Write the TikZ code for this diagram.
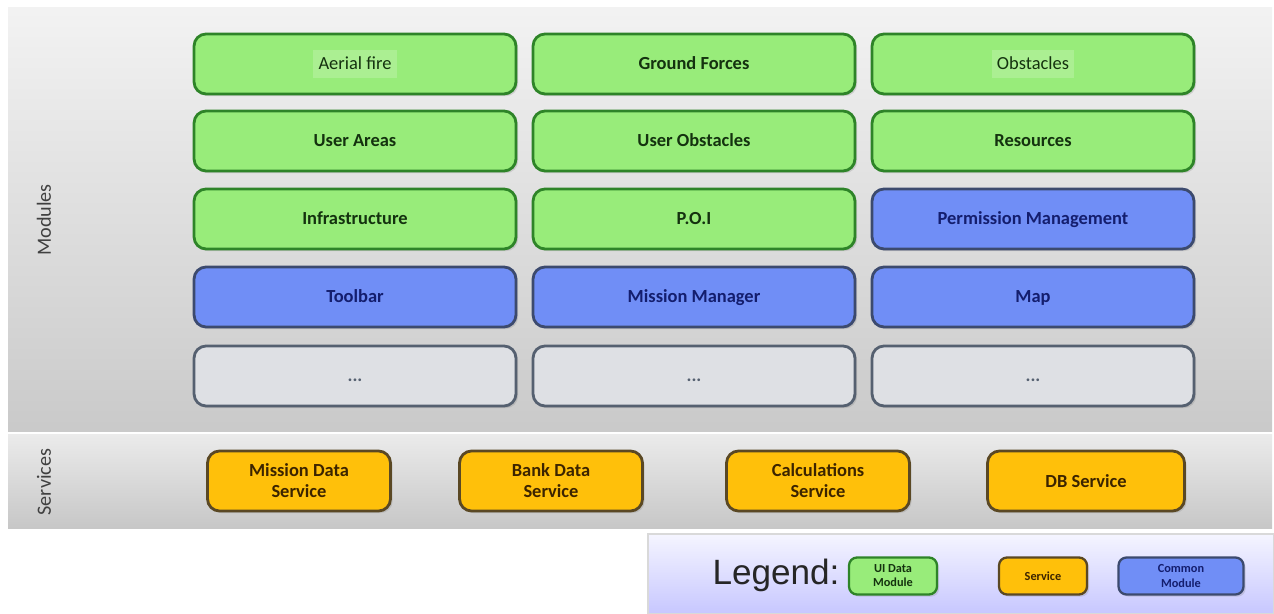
\documentclass[tikz,border=0pt]{standalone}
\usepackage{fontspec}
\setmainfont{Carlito}
\newfontfamily\legendfont{Liberation Sans}
\usetikzlibrary{shadows}
\definecolor{greenfill}{RGB}{152,236,122}
\definecolor{greenline}{RGB}{46,132,40}
\definecolor{greentext}{RGB}{20,50,15}
\definecolor{bluefill}{RGB}{112,142,246}
\definecolor{blueline}{RGB}{60,74,110}
\definecolor{bluetext}{RGB}{20,30,110}
\definecolor{grayfill}{RGB}{222,224,228}
\definecolor{grayline}{RGB}{85,96,112}
\definecolor{orangefill}{RGB}{255,192,10}
\definecolor{orangeline}{RGB}{90,72,36}
\definecolor{orangetext}{RGB}{60,36,0}
\tikzset{
  box/.style={rounded corners=0.24cm, line width=1.6pt, align=center,
    font=\bfseries\fontsize{10.5}{12}\selectfont,
    drop shadow={opacity=0.25, shadow xshift=1.2pt, shadow yshift=-1.2pt}},
  modbox/.style={box, minimum width=6.44cm, minimum height=1.2cm,
    text height=1.6ex, text depth=0.4ex},
  uimod/.style={fill=greenfill, draw=greenline, text=greentext},
  common/.style={fill=bluefill, draw=blueline, text=bluetext},
  blank/.style={fill=grayfill, draw=grayline, text=grayline},
  svc/.style={box, fill=orangefill, draw=orangeline, text=orangetext,
    minimum width=3.66cm, minimum height=1.2cm},
  plain/.style={font=\fontsize{10.5}{12}\selectfont, text height=1.6ex, text depth=0.4ex},
  lgbox/.style={box, minimum height=0.74cm, rounded corners=0.16cm,
    line width=1.3pt, font=\bfseries\fontsize{7}{8}\selectfont},
  hilite/.style={fill=greenfill!82!white, inner sep=3pt},
  panellabel/.style={rotate=90, text=black!75, font=\fontsize{11.5}{13}\selectfont}
}
\begin{document}
\begin{tikzpicture}[x=0.02cm, y=-0.02cm]
\useasboundingbox (0,0) rectangle (1274,614);
% layer panels
\shade[top color=black!5, bottom color=black!21] (8,8) rectangle (1272,432);
\shade[top color=black!8, bottom color=black!22] (8,435) rectangle (1272,528);
\shade[top color=blue!4, bottom color=blue!22!white, draw=black!15, line width=0.6pt] (648,534) rectangle (1274,614);
\node[panellabel] (modlabel) at (44,220) {Modules};
\node[panellabel] (svclabel) at (44,482) {Services};
% modules grid
\node[modbox, uimod] (aerial) at (355,64) {};
\node[plain, hilite, text=greentext] (aeriallbl) at (aerial) {Aerial fire};
\node[modbox, uimod] (ground) at (694,64) {Ground Forces};
\node[modbox, uimod] (obst) at (1033,64) {};
\node[plain, hilite, text=greentext] (obstlbl) at (obst) {Obstacles};
\node[modbox, uimod] (uareas) at (355,141) {User Areas};
\node[modbox, uimod] (uobst) at (694,141) {User Obstacles};
\node[modbox, uimod] (res) at (1033,141) {Resources};
\node[modbox, uimod] (infra) at (355,219) {Infrastructure};
\node[modbox, uimod] (poi) at (694,219) {P.O.I};
\node[modbox, common] (perm) at (1033,219) {Permission Management};
\node[modbox, common] (toolbar) at (355,297) {Toolbar};
\node[modbox, common] (mission) at (694,297) {Mission Manager};
\node[modbox, common] (map) at (1033,297) {Map};
\node[modbox, blank] (more1) at (355,376) {...};
\node[modbox, blank] (more2) at (694,376) {...};
\node[modbox, blank] (more3) at (1033,376) {...};
% services row
\node[svc] (mds) at (299,481) {Mission Data\\Service};
\node[svc] (bds) at (551,481) {Bank Data\\Service};
\node[svc] (calc) at (818,481) {Calculations\\Service};
\node[svc, minimum width=3.94cm] (db) at (1086,481) {DB Service};
% legend
\node[font=\legendfont\fontsize{20}{22}\selectfont, text=black!85] (legend) at (776,575) {Legend:};
\node[lgbox, uimod, minimum width=1.76cm] (lgui) at (893,576) {UI Data\\Module};
\node[lgbox, fill=orangefill, draw=orangeline, text=orangetext, minimum width=1.76cm] (lgsvc) at (1043,576) {Service};
\node[lgbox, common, minimum width=2.5cm] (lgcommon) at (1181,576) {Common\\Module};
\end{tikzpicture}
\end{document}
